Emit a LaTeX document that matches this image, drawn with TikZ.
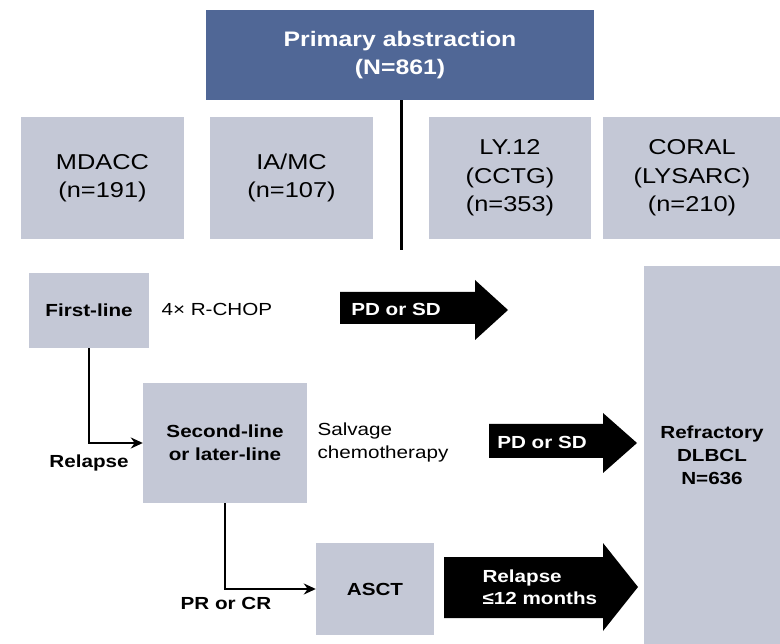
\documentclass[tikz,border=0pt]{standalone}
\usepackage{fontspec}
\setmainfont[FakeStretch=1.18]{Liberation Sans}
\usepackage{tikz}
\usetikzlibrary{arrows.meta, positioning, calc}
\definecolor{abstrBlue}{RGB}{80,103,150}
\definecolor{cohortGrey}{RGB}{196,200,214}

\begin{document}
\begin{tikzpicture}[x=1pt,y=-1pt,
  cohort/.style={fill=cohortGrey, inner sep=0pt, align=center, font=\fontsize{21.5}{28.5}\selectfont},
  stagebox/.style={fill=cohortGrey, inner sep=0pt, align=center, font=\fontsize{17.5}{23}\selectfont\bfseries},
  flow/.style={line width=2.6pt, -{Stealth[length=12pt,width=11pt]}},
  bigarrow/.style={fill=black},
  arrowtxt/.style={text=white, font=\fontsize{17.5}{22}\selectfont\bfseries},
  plain/.style={font=\fontsize{17.5}{23}\selectfont}]
  \useasboundingbox (0,0) rectangle (780,644);
  % top box
  \node[fill=abstrBlue, text=white, minimum width=388pt, minimum height=90pt, inner sep=0pt,
    align=center, font=\fontsize{21}{28}\selectfont\bfseries] (primary) at (400,55) {Primary abstraction\\(N=861)};
  \coordinate (trunkend) at (401,250);
  \draw[line width=3pt] (primary.south -| trunkend) -- (trunkend);
  % cohorts
  \node[cohort, minimum width=163pt, minimum height=122pt] (mdacc) at (102.5,178) {MDACC\\(n=191)};
  \node[cohort, minimum width=163pt, minimum height=122pt] (iamc) at (291.5,178) {IA/MC\\(n=107)};
  \node[cohort, minimum width=162pt, minimum height=122pt] (ly12) at (510,178) {LY.12\\(CCTG)\\(n=353)};
  \node[cohort, minimum width=178pt, minimum height=122pt] (coral) at (692,178) {CORAL\\(LYSARC)\\(n=210)};
  % treatment lines
  \node[stagebox, minimum width=120pt, minimum height=75pt] (first) at (89,310.5) {First-line};
  \node[stagebox, minimum width=164pt, minimum height=120pt] (second) at (225,443) {Second-line\\or later-line};
  \node[stagebox, minimum width=118pt, minimum height=92pt] (asct) at (375,589) {ASCT};
  \node[stagebox, minimum width=136pt, minimum height=378pt] (refr) at (712,455) {Refractory\\DLBCL\\N=636};
  \node[plain, anchor=west] (rchop) at (158,309) {4\texttimes{} R-CHOP};
  \node[plain, anchor=west, align=left] (salvage) at (314,442) {Salvage\\chemotherapy};
  \draw[flow] (first.south) |- (second.west);
  \draw[flow] (second.south) |- (asct.west);
  \node[stagebox, fill=none] (relapse) at (89,463) {Relapse};
  \node[stagebox, fill=none] (prcr) at (226,603) {PR or CR};
  % block arrows
  \fill[bigarrow] (340,292) -- (475,292) -- (475,280) -- (508,310) -- (475,340) -- (475,324) -- (340,324) -- cycle;
  \node[arrowtxt] (pdsd1) at (396,309) {PD or SD};
  \fill[bigarrow] (489,424) -- (603,424) -- (603,413) -- (637,443) -- (603,473) -- (603,458) -- (489,458) -- cycle;
  \node[arrowtxt] (pdsd2) at (542,442) {PD or SD};
  \fill[bigarrow] (444,557) -- (603,557) -- (603,543) -- (638,587) -- (603,631) -- (603,618) -- (444,618) -- cycle;
  \node[arrowtxt, anchor=west, align=left] (late) at (479,587) {Relapse\\≤12 months};
\end{tikzpicture}
\end{document}
